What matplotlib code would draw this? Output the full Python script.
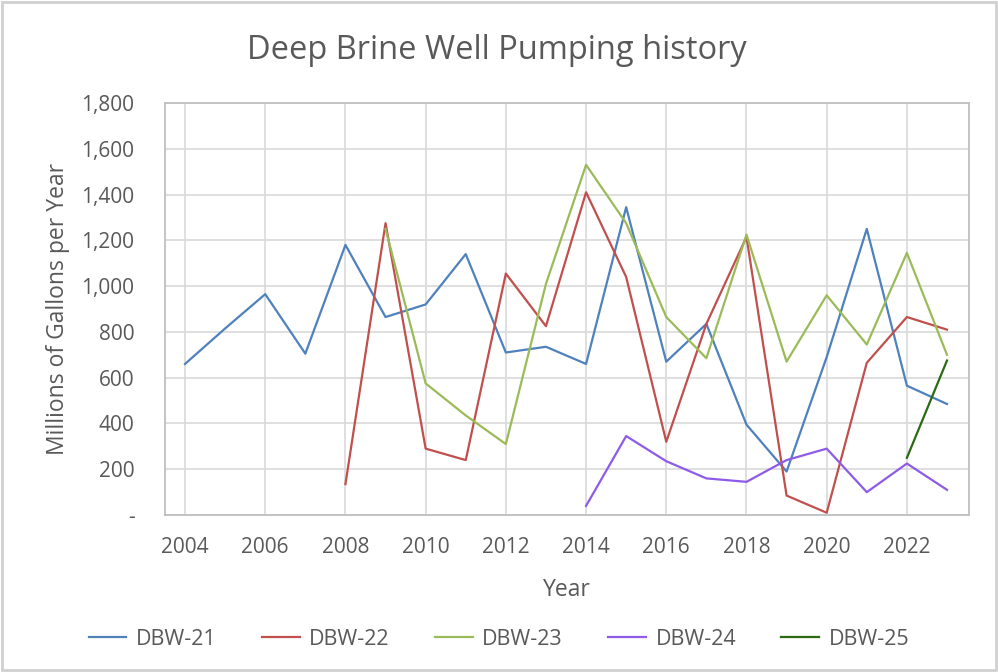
import matplotlib.pyplot as plt
import matplotlib.ticker as mticker
from matplotlib.patches import Rectangle
import numpy as np

plt.rcParams['font.family'] = ['Open Sans', 'DejaVu Sans']

# yearly pumping, millions of gallons
years_21 = list(range(2004, 2024))
dbw_21 = [660, 815, 965, 705, 1180, 865, 920, 1140, 710, 735,
          660, 1345, 670, 835, 395, 190, 690, 1250, 565, 485]
years_22 = list(range(2008, 2024))
dbw_22 = [135, 1275, 290, 240, 1055, 825, 1410, 1040, 320, 835,
          1215, 85, 10, 665, 865, 810]
years_23 = list(range(2009, 2024))
dbw_23 = [1250, 575, 435, 310, 1010, 1530, 1275, 865, 685, 1225,
          670, 960, 745, 1145, 700]
years_24 = list(range(2014, 2024))
dbw_24 = [40, 345, 235, 160, 145, 240, 290, 100, 225, 110]
years_25 = [2022, 2023]
dbw_25 = [250, 675]

series = [
    ("DBW-21", years_21, dbw_21, "#4F81BD"),
    ("DBW-22", years_22, dbw_22, "#C0504D"),
    ("DBW-23", years_23, dbw_23, "#9BBB59"),
    ("DBW-24", years_24, dbw_24, "#8E5BE8"),
    ("DBW-25", years_25, dbw_25, "#2A6A12"),
]

txt = "#595959"
fig = plt.figure(figsize=(9.98, 6.72), dpi=100)
ax = fig.add_axes([0.1653, 0.2336, 0.8057, 0.6131])

for name, xs, ys, col in series:
    ax.plot(xs, ys, color=col, lw=1.6, label=name)

ax.set_xlim(2003.5, 2023.55)
ax.set_ylim(0, 1800)
ax.set_xticks(range(2004, 2023, 2))
ax.set_yticks(range(0, 1801, 200))
ax.yaxis.set_major_formatter(mticker.FuncFormatter(
    lambda v, p: "-" if v == 0 else "{:,.0f}".format(v)))
ax.grid(True, color="#D9D9D9", lw=1.2)
ax.set_axisbelow(True)
ax.tick_params(length=0, labelsize=15, labelcolor=txt)
ax.tick_params(axis="x", pad=16)
ax.tick_params(axis="y", pad=22)
for s in ax.spines.values():
    s.set_color("#BFBFBF")
    s.set_linewidth(1.3)

ax.set_xlabel("Year", fontsize=16.5, color=txt, labelpad=14)
ax.set_ylabel("Millions of Gallons per Year", fontsize=16.5, color=txt, labelpad=8)
fig.text(0.498, 0.925, "Deep Brine Well Pumping history", ha="center", va="center",
         fontsize=23.5, color=txt)

leg = fig.legend(loc="center", bbox_to_anchor=(0.5, 0.049), ncol=5, frameon=False,
                 fontsize=15.5, handlelength=1.75, handletextpad=0.45, columnspacing=2.1)
for t in leg.get_texts():
    t.set_color(txt)

fig.add_artist(Rectangle((0.002, 0.003), 0.996, 0.994, transform=fig.transFigure,
                         fill=False, edgecolor="#D0D0D0", lw=2))

fig.savefig("out.png", dpi=100)
